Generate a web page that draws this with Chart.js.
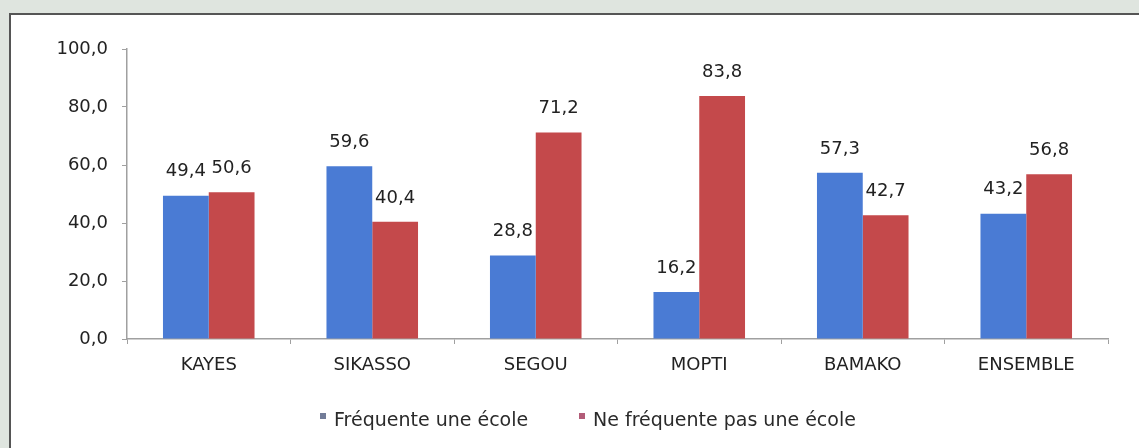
<!DOCTYPE html>
<html>
<head>
<meta charset="utf-8">
<script src="https://cdn.jsdelivr.net/npm/chart.js@4/dist/chart.umd.min.js"></script>
<style>
  html, body { margin: 0; padding: 0; }
  body { width: 1139px; height: 448px; background: #dfe5df; position: relative; overflow: hidden; font-family: "DejaVu Sans", sans-serif; }
  .panel { position: absolute; left: 9px; top: 13px; right: 0; bottom: -5px; background: #fff; border-top: 2px solid #555; border-left: 2px solid #555; }
  .wrap { position: absolute; left: 0; top: 0; width: 1139px; height: 448px; }
  .leg { position: absolute; top: 408px; font-size: 19px; line-height: 22px; color: #2a2a2a; white-space: nowrap; }
  .leg i { position: absolute; left: -14px; top: 5px; width: 6px; height: 6px; }
</style>
</head>
<body>
<div class="panel"></div>
<div class="wrap"><canvas id="schoolChart"></canvas></div>
<div class="leg" id="leg0" style="left:334px"><i></i><span></span></div>
<div class="leg" id="leg1" style="left:593px"><i></i><span></span></div>
<script>
const categories = ['KAYES', 'SIKASSO', 'SEGOU', 'MOPTI', 'BAMAKO', 'ENSEMBLE'];
const seriesNames = ['Fréquente une école', 'Ne fréquente pas une école'];
const frequente = [49.4, 59.6, 28.8, 16.2, 57.3, 43.2];
const neFrequente = [50.6, 40.4, 71.2, 83.8, 42.7, 56.8];
const yTicks = [0, 20, 40, 60, 80, 100];

const colors = ['#4a7bd4', '#c4494b'];
const legendMarks = ['#727c98', '#b25c78'];

const fmt = v => v.toFixed(1).replace('.', ',');

// value labels above each bar
const valueLabels = {
    id: 'valueLabels',
    afterDatasetsDraw(chart) {
        const ctx = chart.ctx;
        ctx.save();
        ctx.font = '18px "DejaVu Sans"';
        ctx.fillStyle = '#222';
        ctx.textAlign = 'center';
        ctx.textBaseline = 'bottom';
        chart.data.datasets.forEach((ds, i) => {
            chart.getDatasetMeta(i).data.forEach((bar, j) => {
                ctx.fillText(fmt(ds.data[j]), bar.x, bar.y - 15);
            });
        });
        ctx.restore();
    }
};

seriesNames.forEach((name, i) => {
    const el = document.getElementById('leg' + i);
    el.querySelector('span').textContent = name;
    el.querySelector('i').style.background = legendMarks[i];
});

const ctx = document.getElementById('schoolChart').getContext('2d');
new Chart(ctx, {
    type: 'bar',
    data: {
        labels: categories,
        datasets: [
            { label: seriesNames[0], data: frequente, backgroundColor: colors[0] },
            { label: seriesNames[1], data: neFrequente, backgroundColor: colors[1] }
        ]
    },
    options: {
        responsive: true,
        maintainAspectRatio: false,
        animation: false,
        datasets: { bar: { categoryPercentage: 0.56, barPercentage: 1 } },
        layout: { padding: { left: 40, top: 49, right: 31, bottom: 43 } },
        plugins: { legend: { display: false }, tooltip: { enabled: false } },
        scales: {
            x: {
                afterFit: s => { s.height = 66; },
                border: { color: '#a0a0a0', width: 1.5 },
                grid: { drawOnChartArea: false, tickLength: 5, color: '#a0a0a0' },
                ticks: { padding: 11, color: '#222', font: { family: 'DejaVu Sans', size: 18 } }
            },
            y: {
                min: 0,
                max: 100,
                afterFit: s => { s.width = 87; },
                afterBuildTicks: s => { s.ticks = yTicks.map(v => ({ value: v })); },
                border: { color: '#a0a0a0', width: 1.5 },
                grid: { drawOnChartArea: false, tickLength: 5, color: '#a0a0a0' },
                ticks: { padding: 14, color: '#222', font: { family: 'DejaVu Sans', size: 18 }, callback: v => fmt(v) }
            }
        }
    },
    plugins: [valueLabels]
});
</script>
</body>
</html>
